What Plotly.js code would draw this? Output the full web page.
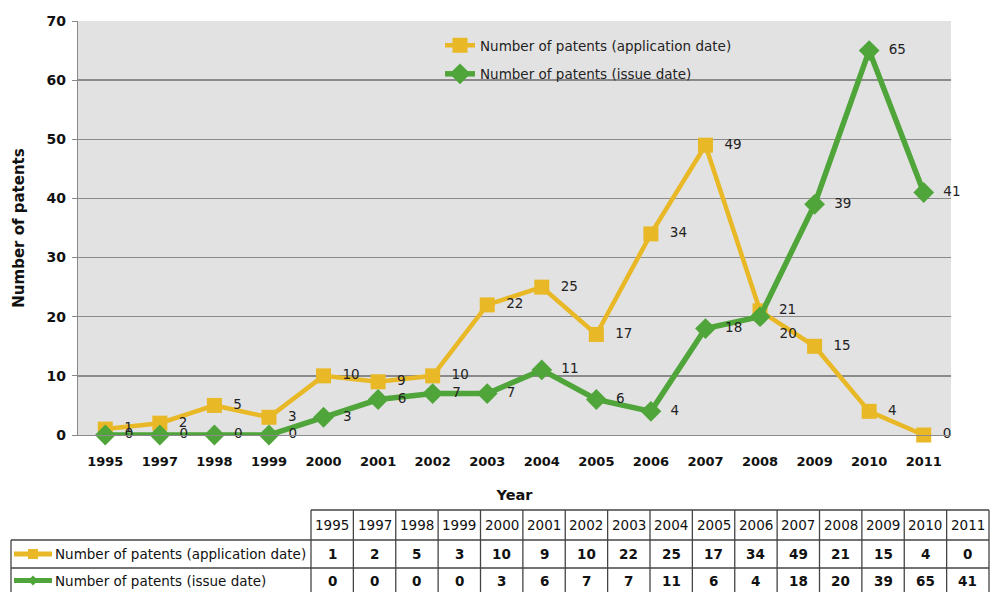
<!DOCTYPE html>
<html>
<head>
<meta charset="utf-8">
<script src="https://cdn.plot.ly/plotly-3.0.1.min.js"></script>
<style>html,body{margin:0;padding:0;background:#fff;}#chart{width:990px;height:592px;}</style>
</head>
<body>
<div id="chart"></div>
<script>
const years = ['1995','1997','1998','1999','2000','2001','2002','2003','2004','2005','2006','2007','2008','2009','2010','2011'];
const appDate = [1,2,5,3,10,9,10,22,25,17,34,49,21,15,4,0];
const issueDate = [0,0,0,0,3,6,7,7,11,6,4,18,20,39,65,41];
const appName = 'Number of patents (application date)';
const issueName = 'Number of patents (issue date)';

const YELLOW = '#E9B826';
const GREEN = '#4FA53A';
const FONT = 'DejaVu Sans, Verdana, sans-serif';

// layout geometry (pixels)
const W = 990, H = 592;
const M = {l: 78, r: 39, t: 21, b: 157};
const PW = W - M.l - M.r, PH = H - M.t - M.b;
const px = x => (x - M.l) / PW;
const py = y => (H - M.b - y) / PH;

const issuePos = issueDate.map((v, i) => i === 12 ? 'bottom right' : 'middle right');

const traces = [
  {
    x: years, y: appDate, name: appName, type: 'scatter', mode: 'lines+markers+text',
    legendgroup: 'a',
    line: {color: YELLOW, width: 4.5},
    marker: {symbol: 'square', size: 15, color: YELLOW},
    text: appDate.map(v => '  ' + v), textposition: 'middle right',
    textfont: {family: FONT, size: 13.5, color: '#222'},
    cliponaxis: false
  },
  {
    x: years, y: issueDate, name: issueName, type: 'scatter', mode: 'lines+markers+text',
    legendgroup: 'b',
    line: {color: GREEN, width: 5.5},
    marker: {symbol: 'diamond', size: 16, color: GREEN},
    text: issueDate.map(v => '  ' + v), textposition: issuePos,
    textfont: {family: FONT, size: 13.5, color: '#222'},
    cliponaxis: false
  }
];

// data table below the chart
const shapes = [];
const annotations = [];
const colL = 311, colW = (989 - 311) / years.length;
const rowTop = 510, row1 = 540, row2 = 568, rowBot = 597;
const lc = '#444';
shapes.push({type: 'line', xref: 'paper', yref: 'paper', x0: px(colL), x1: px(989), y0: py(rowTop), y1: py(rowTop), line: {color: lc, width: 1.3}});
[row1, row2].forEach(r => shapes.push({type: 'line', xref: 'paper', yref: 'paper', x0: px(11), x1: px(989), y0: py(r), y1: py(r), line: {color: lc, width: 1.3}}));
shapes.push({type: 'line', xref: 'paper', yref: 'paper', x0: px(11), x1: px(11), y0: py(row1), y1: py(rowBot), line: {color: lc, width: 1.3}});
for (let i = 0; i <= years.length; i++) {
  const xx = colL + i * colW;
  shapes.push({type: 'line', xref: 'paper', yref: 'paper', x0: px(xx), x1: px(xx), y0: py(rowTop), y1: py(rowBot), line: {color: lc, width: 1.3}});
}
years.forEach((yr, i) => {
  const cx = px(colL + (i + 0.5) * colW);
  annotations.push({xref: 'paper', yref: 'paper', x: cx, y: py((rowTop + row1) / 2), text: yr, showarrow: false, xanchor: 'center', yanchor: 'middle', font: {family: FONT, size: 13.5, color: '#111'}});
  annotations.push({xref: 'paper', yref: 'paper', x: cx, y: py((row1 + row2) / 2), text: '<b>' + appDate[i] + '</b>', showarrow: false, xanchor: 'center', yanchor: 'middle', font: {family: FONT, size: 13.5, color: '#111'}});
  annotations.push({xref: 'paper', yref: 'paper', x: cx, y: py((row2 + rowBot) / 2 - 2), text: '<b>' + issueDate[i] + '</b>', showarrow: false, xanchor: 'center', yanchor: 'middle', font: {family: FONT, size: 13.5, color: '#111'}});
});
// row labels with legend keys
const rowY = [(row1 + row2) / 2, (row2 + rowBot) / 2 - 2];
[[appName, YELLOW, 'square'], [issueName, GREEN, 'diamond']].forEach((r, k) => {
  const yy = rowY[k];
  shapes.push({type: 'line', xref: 'paper', yref: 'paper', x0: px(14), x1: px(52), y0: py(yy), y1: py(yy), line: {color: r[1], width: 5}});
  if (r[2] === 'square') {
    shapes.push({type: 'rect', xref: 'paper', yref: 'paper', x0: px(28), x1: px(38), y0: py(yy - 5), y1: py(yy + 5), fillcolor: r[1], line: {width: 0}});
  } else {
    const p = `M ${px(33)} ${py(yy - 5)} L ${px(38)} ${py(yy)} L ${px(33)} ${py(yy + 5)} L ${px(28)} ${py(yy)} Z`;
    shapes.push({type: 'path', xref: 'paper', yref: 'paper', path: p, fillcolor: r[1], line: {width: 0}});
  }
  annotations.push({xref: 'paper', yref: 'paper', x: px(53), y: py(yy), text: r[0], showarrow: false, xanchor: 'left', yanchor: 'middle', font: {family: FONT, size: 13.5, color: '#111'}});
});

const layout = {
  width: W, height: H,
  margin: M,
  paper_bgcolor: '#ffffff',
  plot_bgcolor: '#e2e2e2',
  font: {family: FONT, size: 13, color: '#111'},
  showlegend: true,
  legend: {x: px(440), y: py(30), xanchor: 'left', yanchor: 'top', bgcolor: 'rgba(0,0,0,0)',
           font: {family: FONT, size: 13.5, color: '#222'}, traceorder: 'grouped', tracegroupgap: 8},
  xaxis: {
    type: 'category', categoryorder: 'array', categoryarray: years,
    range: [-0.5, years.length - 0.5],
    showgrid: false, showline: true, linecolor: '#8a8a8a', linewidth: 1.3,
    ticks: '', ticklabelstandoff: 14,
    tickfont: {family: FONT, size: 13, color: '#111', weight: 'bold'},
    title: {text: '<b>Year</b>', font: {family: FONT, size: 14.5, color: '#111'}, standoff: 22}
  },
  yaxis: {
    range: [0, 70], dtick: 10, tick0: 0,
    showgrid: true, gridcolor: '#8a8a8a', gridwidth: 1.3,
    showline: true, linecolor: '#8a8a8a', linewidth: 1.3,
    zeroline: false,
    ticks: 'outside', ticklen: 5, tickcolor: '#8a8a8a',
    ticklabelstandoff: 3,
    tickfont: {family: FONT, size: 14, color: '#111', weight: 'bold'},
    title: {text: '<b>Number of patents</b>', font: {family: FONT, size: 15, color: '#111'}, standoff: 18}
  },
  shapes: shapes,
  annotations: annotations
};

Plotly.newPlot('chart', traces, layout, {displayModeBar: false, staticPlot: true});
</script>
</body>
</html>
